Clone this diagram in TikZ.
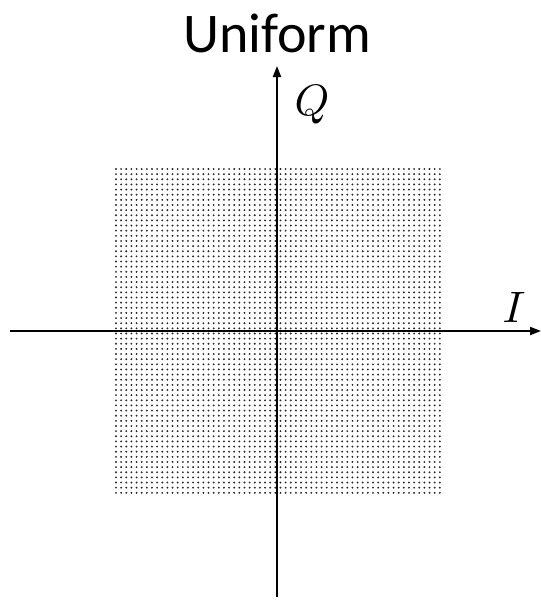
\documentclass[tikz,border=0pt]{standalone}
\usepackage{fontspec}
\newfontfamily\titlefont{Carlito}
\usetikzlibrary{arrows.meta}
\tikzset{
  axis/.style={line width=2pt,-{Triangle[length=11pt,width=8pt]}},
  dot/.style={fill=black!85},
  lbl/.style={inner sep=0pt,anchor=base},
}
\begin{document}
\begin{tikzpicture}[x=1pt,y=-1pt]
\useasboundingbox (0,0) rectangle (541,600);
\foreach \i in {0,...,63}{
  \foreach \j in {0,...,63}{
    \fill[dot] ({116+\i*5.14},{169+\j*5.14}) circle (1.05);
  }
}
\coordinate (xl) at (10,331);
\coordinate (xr) at (541,331);
\coordinate (yb) at (277,597);
\coordinate (yt) at (277,66);
\draw[axis] (xl) -- (xr);
\draw[axis] (yb) -- (yt);
\node[font=\titlefont\fontsize{56}{56}\selectfont] (title) at (277,33) {Uniform};
\node[lbl] (Q) at (312,115) {\scalebox{4.4}{$Q$}};
\node[lbl] (I) at (514,322) {\scalebox{4.4}{$I$}};
\end{tikzpicture}
\end{document}
